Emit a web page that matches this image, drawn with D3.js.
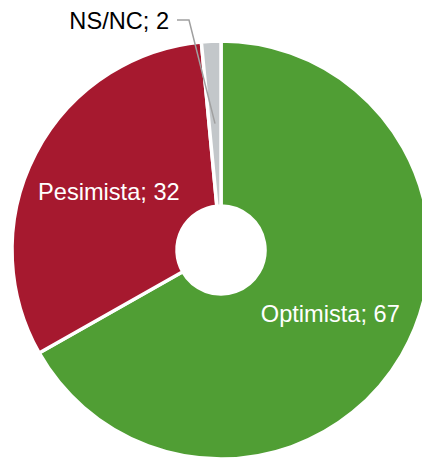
<!DOCTYPE html>
<html>
<head>
<meta charset="utf-8">
<script src="https://cdn.jsdelivr.net/npm/d3@7"></script>
<style>
html,body{margin:0;padding:0;background:#fff;}
svg{display:block;}
text{font-family:"Liberation Sans",Arial,sans-serif;}
</style>
</head>
<body>
<svg id="chart" width="422" height="459"></svg>
<script>
const categories = ["Optimista", "Pesimista", "NS/NC"];
const values = [66.8, 31.7, 1.5];
const colors = ["#509e34", "#a6192f", "#c3c7ca"];
const labelColors = ["#ffffff", "#ffffff", "#000000"];

const W = 422, H = 459;
const cx = 221, cy = 250, outerR = 209, innerR = 44;

const svg = d3.select("#chart");
const g = svg.append("g").attr("transform", `translate(${cx},${cy})`);

const data = categories.map((c, i) => ({ name: c, value: values[i], color: colors[i], lc: labelColors[i] }));

const pie = d3.pie().value(d => d.value).sort(null);
const arc = d3.arc().innerRadius(innerR).outerRadius(outerR);
const arcs = pie(data);

g.selectAll("path.slice")
  .data(arcs)
  .join("path")
  .attr("class", "slice")
  .attr("d", arc)
  .attr("fill", d => d.data.color)
  .attr("stroke", "#fff")
  .attr("stroke-width", 3.5)
  .attr("stroke-linejoin", "miter");

const fmt = d3.format(".0f");
const fs = 23.6;

// inside labels (large slices)
g.selectAll("text.inlabel")
  .data(arcs.filter(d => d.data.value > 10))
  .join("text")
  .attr("class", "inlabel")
  .attr("transform", d => `translate(${arc.centroid(d)})`)
  .attr("text-anchor", "middle")
  .attr("dy", "0.37em")
  .attr("font-size", fs)
  .attr("fill", d => d.data.lc)
  .text(d => `${d.data.name}; ${fmt(d.data.value)}`);

// outside label with leader line (small slice)
const small = arcs.filter(d => d.data.value <= 10);
small.forEach(d => {
  const c = arc.centroid(d);
  const elbow = [-32, -230];
  const end = [-44, -230];
  g.append("polyline")
    .attr("points", [c, elbow, end].map(p => p.join(",")).join(" "))
    .attr("fill", "none")
    .attr("stroke", "#a0a0a0")
    .attr("stroke-width", 1.5);
  g.append("text")
    .attr("x", end[0] - 8)
    .attr("y", end[1])
    .attr("dy", "0.37em")
    .attr("text-anchor", "end")
    .attr("font-size", fs)
    .attr("fill", d.data.lc)
    .text(`${d.data.name}; ${fmt(d.data.value)}`);
});
</script>
</body>
</html>
